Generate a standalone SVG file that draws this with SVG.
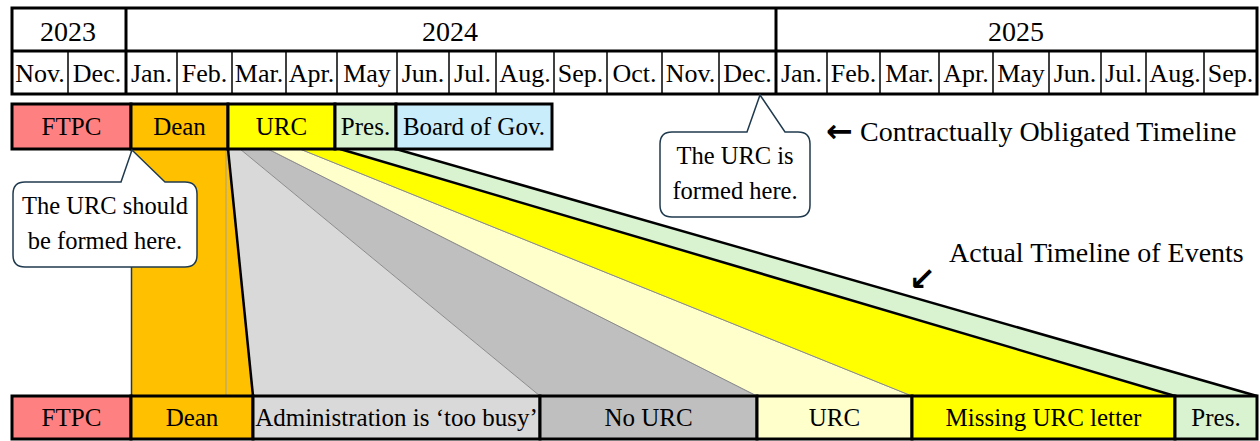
<svg xmlns="http://www.w3.org/2000/svg" width="1260" height="441" viewBox="0 0 1260 441">
<style>
text{font-family:"Liberation Serif","Times New Roman",serif;fill:#000;text-anchor:middle}
.hd{font-size:26px}
.yr{font-size:28px}
.bar{font-size:25px}
.co{font-size:24.5px}
.lbl{font-size:28px;text-anchor:start}
.arr{font-family:"DejaVu Sans",sans-serif;text-anchor:start;font-weight:bold}
.thin{stroke:#000;stroke-width:1.5}
.thick{stroke:#000;stroke-width:3}
.seg{stroke:#000;stroke-width:3}
.band{stroke:#8c8c8c;stroke-width:1}
.callout{fill:#fff;stroke:#1f3a4e;stroke-width:1.5}
</style>
<rect width="1260" height="441" fill="#fff"/>

<g id="bands">
  <polygon points="131,149 228,149 253,396 131,396" fill="#FFC000"/>
  <line x1="226" y1="149" x2="226" y2="396" stroke="#a0a0a0" stroke-width="1"/>
  <line x1="131.5" y1="149" x2="131.5" y2="396" stroke="#1f3a4e" stroke-width="1.5"/>
  <polygon points="228,149 240,149 540,396 253,396" fill="#D9D9D9"/>
  <polygon class="band" points="240,149 268,149 757,396 540,396" fill="#BFBFBF"/>
  <polygon class="band" points="268,149 300,149 912,396 757,396" fill="#FFFFCC"/>
  <polygon class="band" points="300,149 340,149 1175,396 912,396" fill="#FFFF00"/>
  <polygon points="340,149 396,149 1257,396 1175,396" fill="#D9F2D0"/>
  <line x1="228" y1="149" x2="253" y2="396" stroke="#000" stroke-width="2.5"/>
  <line x1="340" y1="149" x2="1175" y2="396" stroke="#000" stroke-width="2.5"/>
  <line x1="396" y1="149" x2="1257" y2="396" stroke="#000" stroke-width="2.5"/>
</g>

<g id="header">
  <rect x="12" y="8" width="1245" height="86" fill="#fff" stroke="none"/>
  <g class="thin">
    <line x1="68" y1="51" x2="68" y2="94"/>
    <line x1="177" y1="51" x2="177" y2="94"/>
    <line x1="232" y1="51" x2="232" y2="94"/>
    <line x1="286" y1="51" x2="286" y2="94"/>
    <line x1="337" y1="51" x2="337" y2="94"/>
    <line x1="397" y1="51" x2="397" y2="94"/>
    <line x1="449" y1="51" x2="449" y2="94"/>
    <line x1="496" y1="51" x2="496" y2="94"/>
    <line x1="554" y1="51" x2="554" y2="94"/>
    <line x1="607" y1="51" x2="607" y2="94"/>
    <line x1="662" y1="51" x2="662" y2="94"/>
    <line x1="719" y1="51" x2="719" y2="94"/>
    <line x1="827" y1="51" x2="827" y2="94"/>
    <line x1="880" y1="51" x2="880" y2="94"/>
    <line x1="939" y1="51" x2="939" y2="94"/>
    <line x1="993" y1="51" x2="993" y2="94"/>
    <line x1="1049" y1="51" x2="1049" y2="94"/>
    <line x1="1101" y1="51" x2="1101" y2="94"/>
    <line x1="1146" y1="51" x2="1146" y2="94"/>
    <line x1="1204" y1="51" x2="1204" y2="94"/>
  </g>
  <g class="thick">
    <line x1="126" y1="8" x2="126" y2="94"/>
    <line x1="776" y1="8" x2="776" y2="94"/>
    <line x1="12" y1="51" x2="1257" y2="51"/>
    <rect x="12" y="8" width="1245" height="86" fill="none"/>
  </g>
  <g class="yr">
    <text x="68" y="41">2023</text>
    <text x="450" y="41">2024</text>
    <text x="1016" y="41">2025</text>
  </g>
  <g class="hd">
    <text x="40" y="82">Nov.</text>
    <text x="97" y="82">Dec.</text>
    <text x="151.5" y="82">Jan.</text>
    <text x="204.5" y="82">Feb.</text>
    <text x="259" y="82">Mar.</text>
    <text x="311.5" y="82">Apr.</text>
    <text x="367" y="82">May</text>
    <text x="423" y="82">Jun.</text>
    <text x="472.5" y="82">Jul.</text>
    <text x="525" y="82">Aug.</text>
    <text x="580.5" y="82">Sep.</text>
    <text x="634.5" y="82">Oct.</text>
    <text x="690.5" y="82">Nov.</text>
    <text x="747.5" y="82">Dec.</text>
    <text x="801.5" y="82">Jan.</text>
    <text x="853.5" y="82">Feb.</text>
    <text x="909.5" y="82">Mar.</text>
    <text x="966" y="82">Apr.</text>
    <text x="1021" y="82">May</text>
    <text x="1075" y="82">Jun.</text>
    <text x="1123.5" y="82">Jul.</text>
    <text x="1175" y="82">Aug.</text>
    <text x="1230.5" y="82">Sep.</text>
  </g>
</g>

<g id="top-ftpc"><rect class="seg" x="12" y="104" width="119" height="45" fill="#FF8080"/><text class="bar" x="71.5" y="135">FTPC</text></g>
<g id="top-dean"><rect class="seg" x="131" y="104" width="97" height="45" fill="#FFC000"/><text class="bar" x="179.5" y="135">Dean</text></g>
<g id="top-urc"><rect class="seg" x="228" y="104" width="107" height="45" fill="#FFFF00"/><text class="bar" x="281.5" y="135">URC</text></g>
<g id="top-pres"><rect class="seg" x="335" y="104" width="61" height="45" fill="#D9F2D0"/><text class="bar" x="365.5" y="135">Pres.</text></g>
<g id="top-board"><rect x="396" y="104" width="156" height="45" fill="#CAEDFB" stroke="#000" stroke-width="3"/><text class="bar" x="474" y="135">Board of Gov.</text></g>

<g id="bot-ftpc"><rect class="seg" x="12" y="396" width="119" height="43" fill="#FF8080"/><text class="bar" x="71.5" y="426">FTPC</text></g>
<g id="bot-dean"><rect class="seg" x="131" y="396" width="122" height="43" fill="#FFC000"/><text class="bar" x="192" y="426">Dean</text></g>
<g id="bot-admin"><rect class="seg" x="253" y="396" width="287" height="43" fill="#D9D9D9"/><text class="bar" x="396.5" y="426">Administration is ‘too busy’</text></g>
<g id="bot-nourc"><rect class="seg" x="540" y="396" width="217" height="43" fill="#BFBFBF"/><text class="bar" x="648.5" y="426">No URC</text></g>
<g id="bot-urc"><rect class="seg" x="757" y="396" width="155" height="43" fill="#FFFFCC"/><text class="bar" x="834.5" y="426">URC</text></g>
<g id="bot-missing"><rect class="seg" x="912" y="396" width="263" height="43" fill="#FFFF00"/><text class="bar" x="1043.5" y="426">Missing URC letter</text></g>
<g id="bot-pres"><rect class="seg" x="1175" y="396" width="82" height="43" fill="#D9F2D0"/><text class="bar" x="1216" y="426">Pres.</text></g>

<g id="callout-should">
  <path class="callout" d="M25,182 L121,182 L132,150 L165,182 L185,182 Q197,182 197,194 L197,255 Q197,267 185,267 L25,267 Q13,267 13,255 L13,194 Q13,182 25,182 Z"/>
  <text class="co" x="105" y="214">The URC should</text>
  <text class="co" x="105" y="249">be formed here.</text>
</g>

<g id="callout-formed">
  <path class="callout" d="M672,132 L747,132 L760,95 L785,132 L798,132 Q810,132 810,144 L810,205 Q810,217 798,217 L672,217 Q660,217 660,205 L660,144 Q660,132 672,132 Z"/>
  <text class="co" x="735" y="164">The URC is</text>
  <text class="co" x="735" y="199">formed here.</text>
</g>

<g id="label-contract">
  <text class="arr" x="826" y="142" font-size="32">←</text>
  <text class="lbl" x="860" y="141">Contractually Obligated Timeline</text>
</g>
<g id="label-actual">
  <text class="arr" x="909" y="290" font-size="32">↙</text>
  <text class="lbl" x="949" y="262">Actual Timeline of Events</text>
</g>
</svg>
